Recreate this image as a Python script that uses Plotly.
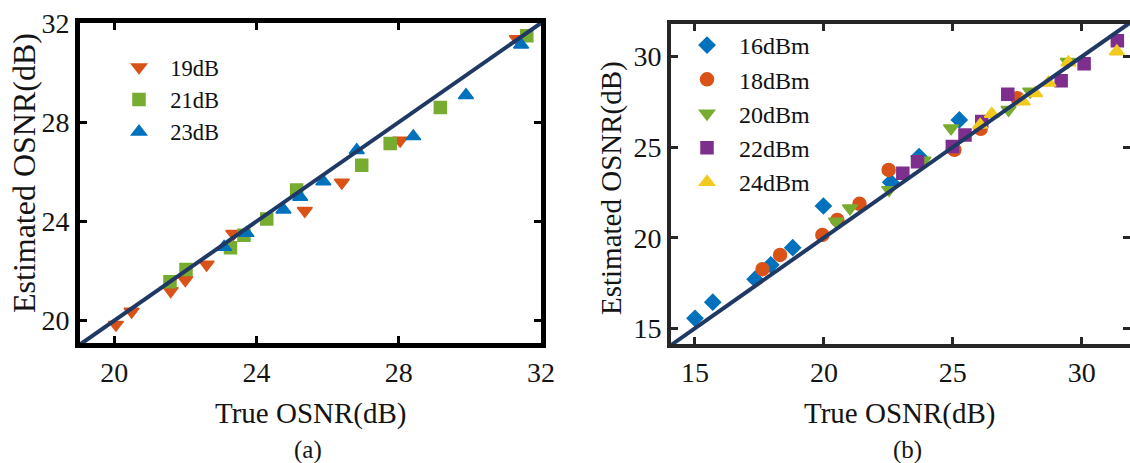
import plotly.graph_objects as go

W, H = 1130, 463

# ---- Panel (a) data ----
a19_x = [20.05, 20.49, 21.59, 22.00, 22.60, 23.35, 25.36, 26.40, 28.04, 31.32]
a19_y = [19.84, 20.37, 21.20, 21.64, 22.26, 23.50, 24.43, 25.57, 27.26, 31.36]
a21_x = [21.57, 22.02, 23.27, 23.65, 24.29, 25.13, 26.96, 27.76, 29.17, 31.60]
a21_y = [21.57, 22.06, 22.94, 23.44, 24.10, 25.27, 26.27, 27.14, 28.59, 31.49]
a23_x = [23.09, 23.72, 24.76, 25.23, 25.88, 26.82, 28.41, 29.89, 31.44]
a23_y = [22.97, 23.53, 24.47, 24.99, 25.61, 26.87, 27.43, 29.09, 31.12]
a_ticks = [20, 24, 28, 32]

# ---- Panel (b) data ----
b16_x = [15.00, 15.69, 17.33, 17.94, 18.79, 19.98, 22.59, 23.69, 25.25]
b16_y = [15.55, 16.44, 17.71, 18.50, 19.45, 21.75, 23.06, 24.48, 26.50]
b18_x = [17.62, 18.30, 19.94, 20.52, 21.38, 22.51, 25.06, 26.08, 27.50]
b18_y = [18.26, 19.05, 20.15, 20.98, 21.87, 23.74, 24.85, 26.01, 27.70]
b20_x = [20.47, 21.01, 22.53, 23.86, 24.93, 27.16, 28.00, 29.46]
b20_y = [20.89, 21.63, 22.64, 24.26, 26.04, 27.06, 28.07, 29.72]
b22_x = [23.06, 23.63, 24.98, 25.47, 26.12, 27.13, 29.20, 30.09, 31.38]
b22_y = [23.56, 24.20, 25.03, 25.67, 26.41, 27.92, 28.67, 29.60, 30.88]
b24_x = [26.06, 26.51, 27.71, 28.19, 28.71, 29.48, 31.36]
b24_y = [26.23, 26.83, 27.52, 27.98, 28.56, 29.67, 30.28]
b_ticks = [15, 20, 25, 30]

ref_a = [19, 32]
ref_b = [14, 32]

BLUE, ORANGE, GREEN = "#0072BD", "#D95319", "#77AC30"
PURPLE, YELLOW = "#7E2F8E", "#F2CA1E"
LINE = "#203864"
FONT = "Liberation Serif"
TXT = "#141414"

fig = go.Figure()

def pts(x, y, name, color, symbol, size, xa, ya, legend):
    fig.add_trace(go.Scatter(
        x=x, y=y, mode="markers", name="  " + name,
        marker=dict(color=color, symbol=symbol, size=size,
                    line=dict(width=1.5, color=color)),
        xaxis=xa, yaxis=ya, legend=legend))

pts(a19_x, a19_y, "19dB", ORANGE, "triangle-down", 13, "x", "y", "legend")
pts(a21_x, a21_y, "21dB", GREEN, "square", 12, "x", "y", "legend")
pts(a23_x, a23_y, "23dB", BLUE, "triangle-up", 13, "x", "y", "legend")
fig.add_trace(go.Scatter(x=ref_a, y=ref_a, mode="lines", showlegend=False,
                         line=dict(color=LINE, width=4), xaxis="x", yaxis="y"))

pts(b16_x, b16_y, "16dBm", BLUE, "diamond", 12, "x2", "y2", "legend2")
pts(b18_x, b18_y, "18dBm", ORANGE, "circle", 13, "x2", "y2", "legend2")
pts(b20_x, b20_y, "20dBm", GREEN, "triangle-down", 13, "x2", "y2", "legend2")
pts(b22_x, b22_y, "22dBm", PURPLE, "square", 12, "x2", "y2", "legend2")
pts(b24_x, b24_y, "24dBm", YELLOW, "triangle-up", 13, "x2", "y2", "legend2")
fig.add_trace(go.Scatter(x=ref_b, y=ref_b, mode="lines", showlegend=False,
                         line=dict(color=LINE, width=4), xaxis="x2", yaxis="y3"))

def px(v):
    return v / W

def py(v):
    return 1 - v / H

tickfont = dict(family=FONT, size=28, color=TXT)
common = dict(showgrid=False, zeroline=False, ticks="inside", ticklen=7, tickwidth=3,
              tickfont=tickfont, automargin=False)

B_RANGE_Y = [14.13, 31.8]

fig.update_layout(
    width=W, height=H, margin=dict(l=0, r=0, t=0, b=0, autoexpand=False),
    paper_bgcolor="white", plot_bgcolor="white",
    font=dict(family=FONT, color=TXT),
    xaxis=dict(domain=[px(80), px(541)], range=[19.04, 32.0], tickvals=a_ticks,
               showline=True, mirror="ticks", linecolor="black", linewidth=5,
               tickcolor="black", anchor="y", **common),
    yaxis=dict(domain=[py(343), py(23)], range=[19.1, 32.0], tickvals=a_ticks,
               showline=True, mirror="ticks", linecolor="black", linewidth=5,
               tickcolor="black", anchor="x", **common),
    xaxis2=dict(domain=[px(671), 1.0], range=[14.07, 31.87], tickvals=b_ticks,
                showline=True, mirror="ticks", linecolor="#262626", linewidth=4,
                tickcolor="#262626", anchor="y2", **common),
    yaxis2=dict(domain=[py(344), py(24)], range=B_RANGE_Y, tickvals=b_ticks,
                showline=True, mirror=False, linecolor="#262626", linewidth=4,
                tickcolor="#262626", anchor="x2", **common),
    yaxis3=dict(overlaying="y2", side="right", anchor="x2", range=B_RANGE_Y,
                tickvals=b_ticks, showticklabels=False, showline=False,
                tickcolor="#262626", **common),
    legend=dict(x=px(119), y=py(46), xanchor="left", yanchor="top",
                bgcolor="rgba(0,0,0,0)", font=dict(family=FONT, size=22.5, color="#111")),
    legend2=dict(x=px(687), y=py(23), xanchor="left", yanchor="top",
                 bgcolor="rgba(0,0,0,0)", font=dict(family=FONT, size=24, color="#111")),
    annotations=[
        dict(text="True OSNR(dB)", x=px(311), y=py(413), xref="paper", yref="paper",
             showarrow=False, xanchor="center", yanchor="middle",
             font=dict(family=FONT, size=29, color=TXT)),
        dict(text="True OSNR(dB)", x=px(900), y=py(413), xref="paper", yref="paper",
             showarrow=False, xanchor="center", yanchor="middle",
             font=dict(family=FONT, size=29, color=TXT)),
        dict(text="Estimated OSNR(dB)", x=px(24), y=py(173), xref="paper", yref="paper",
             showarrow=False, xanchor="center", yanchor="middle", textangle=-90,
             font=dict(family=FONT, size=32, color=TXT)),
        dict(text="Estimated OSNR(dB)", x=px(612), y=py(188), xref="paper", yref="paper",
             showarrow=False, xanchor="center", yanchor="middle", textangle=-90,
             font=dict(family=FONT, size=29, color=TXT)),
        dict(text="(a)", x=px(308), y=py(450), xref="paper", yref="paper",
             showarrow=False, xanchor="center", yanchor="middle",
             font=dict(family=FONT, size=25, color=TXT)),
        dict(text="(b)", x=px(907), y=py(450), xref="paper", yref="paper",
             showarrow=False, xanchor="center", yanchor="middle",
             font=dict(family=FONT, size=25, color=TXT)),
    ],
)

fig.write_html("out.html")
